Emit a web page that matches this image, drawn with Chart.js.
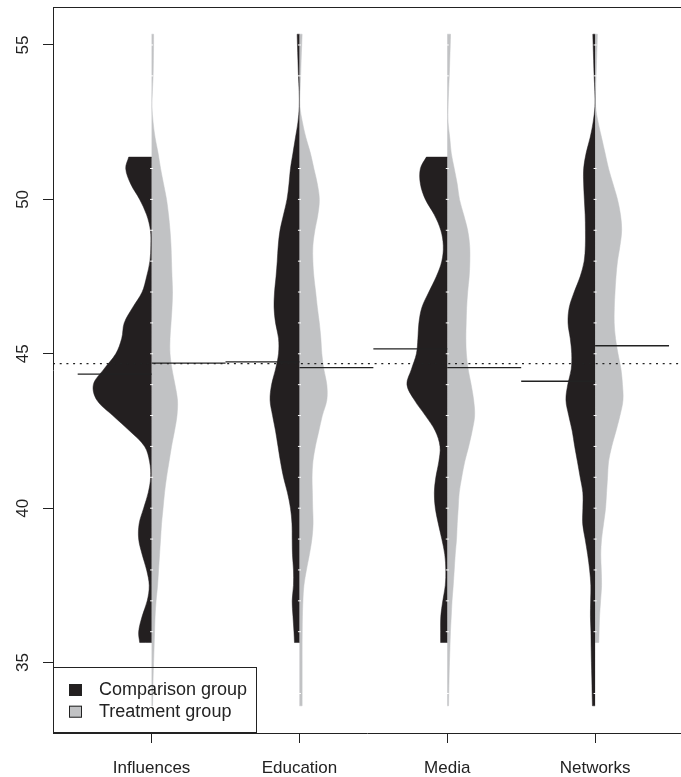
<!DOCTYPE html>
<html>
<head>
<meta charset="utf-8">
<script src="https://cdn.jsdelivr.net/npm/chart.js@4.4.1/dist/chart.umd.min.js"></script>
<style>
  html, body { margin: 0; padding: 0; background: #fff; }
  #wrap { width: 681px; height: 777px; }
</style>
</head>
<body>
<div id="wrap"><canvas id="beanChart" width="681" height="777"></canvas></div>
<script>
// Bean plot: scores per module, comparison group on the left half, treatment on the right
const categories = ['Influences', 'Education', 'Media', 'Networks'];
const groupNames = ['Comparison group', 'Treatment group'];
const yTicks = [35, 40, 45, 50, 55];

const levels = [
  33.6, 34, 34.5, 35, 35.5, 35.65, 36, 36.5, 37, 37.5, 38, 38.5, 39, 39.5, 40, 40.5,
  41, 41.5, 42, 42.5, 43, 43.5, 44, 44.5, 45, 45.5, 46, 46.5, 47, 47.5, 48, 48.5,
  49, 49.5, 50, 50.5, 51, 51.37, 51.5, 52, 52.5, 53, 53.5, 54, 54.5, 55, 55.35
];

// density per level (arbitrary units, null = outside that group's range)
const influencesComparison = [
  null, null, null, null, null, 12, 13, 9.5, 4.4, 2.4, 5, 9.5, 13, 12.5, 8, 3.4,
  1, 2, 7, 22, 39, 55, 58.5, 48, 36, 30, 27.5, 19, 9.5, 5, 1.7, 0.8,
  1.2, 5, 12, 21, 26, 23, null, null, null, null, null, null, null, null, null
];
const influencesTreatment = [
  1, 1.2, 1.5, 2, 2.5, null, 3, 3.5, 4.5, 6, 7, 8, 9, 10, 11.5, 13,
  15, 17.5, 20, 23, 25.5, 26, 23.5, 20.5, 18.5, 18.5, 19.5, 20.5, 21, 20.5, 20, 19.5,
  18.5, 17, 15, 12, 9, null, 6.5, 3.5, 1.5, 0.4, 0.8, 1.5, 1.8, 2, 2
];
const educationComparison = [
  null, null, null, null, null, 5, 5.5, 6.5, 7.3, 6, 6, 7, 7.3, 7.5, 9, 12,
  16, 19, 21.5, 24, 27, 29.5, 28, 24, 21, 21, 24, 25.5, 25, 23.5, 22.3, 21.3,
  19.5, 16, 12.5, 10.5, 9, null, 6.5, 4, 1.5, 0.2, 0.3, 1, 1.5, 2, 2.3
];
const educationTreatment = [
  2.7, 2.7, 2.7, 2.7, 2.7, null, 2.8, 3, 3.5, 4.5, 7, 10, 12.5, 13.7, 13.3, 13,
  12.7, 13.5, 16, 19.5, 23, 27.5, 27.5, 24.5, 22.5, 21.5, 20, 18, 16.3, 14.5, 13.5, 13.5,
  15.5, 18.5, 20, 18, 14.5, null, 11, 6.5, 3, 0.5, 0.6, 1.2, 1.7, 2.3, 2.7
];
const mediaComparison = [
  null, null, null, null, null, 6.7, 6.7, 6.5, 4.5, 2, 1.5, 2.5, 5.5, 9, 12, 13,
  11.5, 8.5, 7.3, 12, 22, 33, 40.5, 36, 31, 29.5, 28.5, 25.5, 18.5, 11, 5.5, 4,
  6.5, 13, 22, 27, 27, 21, null, null, null, null, null, null, null, null, null
];
const mediaTreatment = [
  1.3, 1.5, 1.8, 2.2, 2.7, null, 3.2, 4, 4.8, 6, 7, 8, 9.3, 10, 11, 12,
  14.5, 17.5, 21.5, 25, 27.5, 26.5, 24, 21, 19.2, 18.7, 19, 19.5, 20.5, 22, 22.7, 22.5,
  20.5, 16.5, 12.3, 10, 7, null, 4, 2.5, 0.8, 0.8, 1.3, 2, 2.5, 3, 3.3
];
const networksComparison = [
  2.7, 3, 3.3, 3.7, 4, null, 4.2, 4.7, 4.5, 4.3, 5.5, 7.5, 10, 12.5, 12.3, 12.3,
  15, 17.7, 20.5, 23, 26.5, 29.3, 27.5, 24, 23.5, 25, 27.2, 26, 21, 15, 11, 9.8,
  9.7, 10, 10.8, 11.5, 11.5, null, 9, 5, 2, 0.2, 0.3, 1, 1.5, 2, 2.3
];
const networksTreatment = [
  null, null, null, null, null, 3.7, 4, 4.5, 5.5, 6.5, 6.2, 5.7, 6.5, 8.5, 10.5, 11.5,
  12.5, 13.5, 16.7, 21, 25, 28, 27.5, 26, 23, 20.5, 19.2, 19.3, 20, 21, 22.5, 25,
  26.7, 25.5, 22.5, 18, 13.5, null, 10, 6.5, 3, 0.5, 0.5, 1, 1.5, 2, 2.3
];

const comparisonMeans = [44.34, 44.74, 45.16, 44.11];
const treatmentMeans = [44.70, 44.55, 44.55, 45.26];
const overallMean = 44.68;

// individual scores marked by the small white lines in each bean
const observedScores = [34, 36, 37, 38, 39, 40, 41, 42, 43, 44, 45, 46, 47, 48, 49, 50, 51, 54, 55];

const comparisonDensity = [influencesComparison, educationComparison, mediaComparison, networksComparison];
const treatmentDensity = [influencesTreatment, educationTreatment, mediaTreatment, networksTreatment];

const BLACK = '#231f20';
const GREY = '#c1c2c4';
const INK = '#222';
const FONT = '"Liberation Sans", Arial, Helvetica, sans-serif';

const xMin = 0.333, xMax = 4.581;
const halfWidth = 0.4;     // widest bean side in category units
const densityPeak = 59.4;  // largest density reading

// outline of one bean half; doubled corner points keep the cut ends straight
function beanHalf(center, dens, side) {
  const pts = [];
  let lo = null, hi = null;
  dens.forEach((d, i) => {
    if (d === null) return;
    if (lo === null) lo = levels[i];
    hi = levels[i];
    pts.push({ x: center + side * d / densityPeak * halfWidth, y: levels[i] });
  });
  return [{ x: center, y: lo }, pts[0], ...pts, pts[pts.length - 1], { x: center, y: hi }];
}

const datasets = [];
categories.forEach((name, i) => {
  const c = i + 1;
  [[comparisonDensity[i], -1, BLACK], [treatmentDensity[i], 1, GREY]].forEach(([dens, side, col]) => {
    datasets.push({
      data: beanHalf(c, dens, side),
      showLine: true, fill: 'shape', tension: 0.35,
      backgroundColor: col, borderColor: col, borderWidth: 0.5,
      pointRadius: 0, order: 3
    });
  });
  datasets.push({
    data: observedScores.map(v => ({ x: c, y: v })),
    showLine: false, pointStyle: 'line', pointRadius: 1.5,
    pointBorderColor: '#ffffff', pointBorderWidth: 1, order: 2
  });
  datasets.push({
    data: [{ x: c - 0.5, y: comparisonMeans[i] }, { x: c, y: comparisonMeans[i] }],
    showLine: true, borderColor: INK, borderWidth: 1.3, pointRadius: 0, order: 1
  });
  datasets.push({
    data: [{ x: c, y: treatmentMeans[i] }, { x: c + 0.5, y: treatmentMeans[i] }],
    showLine: true, borderColor: INK, borderWidth: 1.3, pointRadius: 0, order: 1
  });
});
datasets.push({
  data: [{ x: xMin, y: overallMean }, { x: xMax, y: overallMean }],
  showLine: true, borderColor: INK, borderWidth: 1.3, borderDash: [2, 4.7], pointRadius: 0, order: 1
});

// top border, rotated y labels and the boxed legend
const decorations = {
  id: 'decorations',
  afterDraw(chart) {
    const { ctx, chartArea: a, scales: { y } } = chart;
    ctx.save();
    ctx.strokeStyle = INK;
    ctx.lineWidth = 1;
    ctx.beginPath();
    ctx.moveTo(a.left, a.top + 0.5);
    ctx.lineTo(a.right, a.top + 0.5);
    ctx.stroke();

    ctx.fillStyle = INK;
    ctx.font = '17px ' + FONT;
    ctx.textAlign = 'center';
    ctx.textBaseline = 'middle';
    y.ticks.forEach(t => {
      ctx.save();
      ctx.translate(a.left - 30, y.getPixelForValue(t.value));
      ctx.rotate(-Math.PI / 2);
      ctx.fillText(String(t.value), 0, 0);
      ctx.restore();
    });

    ctx.strokeRect(a.left + 0.5, a.bottom - 65.5, 203, 65);
    ctx.font = '18px ' + FONT;
    ctx.textAlign = 'left';
    [[BLACK, a.bottom - 43], [GREY, a.bottom - 21.3]].forEach(([col, cy], k) => {
      ctx.fillStyle = col;
      ctx.fillRect(a.left + 16, cy - 6, 13, 12);
      ctx.strokeRect(a.left + 16.5, cy - 5.5, 12, 11);
      ctx.fillStyle = INK;
      ctx.fillText(groupNames[k], a.left + 46, cy);
    });
    ctx.restore();
  }
};

new Chart(document.getElementById('beanChart'), {
  type: 'scatter',
  data: { datasets },
  plugins: [decorations],
  options: {
    responsive: false,
    animation: false,
    layout: { autoPadding: false, padding: { top: 7, left: 0, right: 0, bottom: 0 } },
    plugins: { legend: { display: false }, tooltip: { enabled: false } },
    scales: {
      x: {
        type: 'linear', min: xMin, max: xMax,
        afterFit: s => { s.height = 44; },
        afterBuildTicks: s => { s.ticks = categories.map((_, i) => ({ value: i + 1 })); },
        ticks: {
          callback: v => categories[v - 1],
          color: INK, font: { family: FONT, size: 17 },
          padding: 15, maxRotation: 0, autoSkip: false
        },
        grid: { drawOnChartArea: false, tickLength: 10, color: INK, lineWidth: 1 },
        border: { color: INK, width: 1 }
      },
      y: {
        type: 'linear', min: 32.72, max: 56.23,
        afterFit: s => { s.width = 53; },
        afterBuildTicks: s => { s.ticks = yTicks.map(v => ({ value: v })); },
        ticks: { display: false },
        grid: { drawOnChartArea: false, tickLength: 10, color: INK, lineWidth: 1 },
        border: { color: INK, width: 1 }
      }
    }
  }
});
</script>
</body>
</html>
